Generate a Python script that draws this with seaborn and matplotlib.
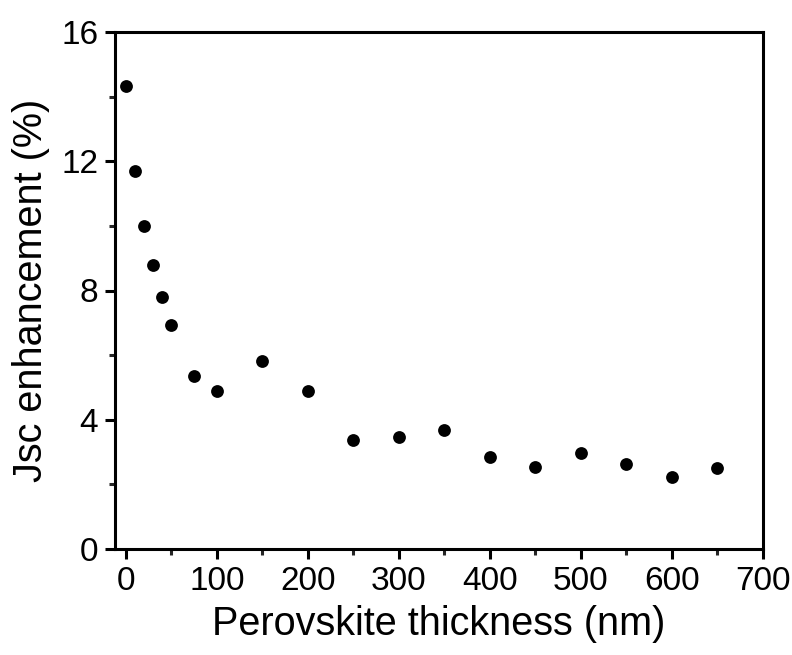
import numpy as np
import pandas as pd
import matplotlib
matplotlib.use("Agg")
import matplotlib.pyplot as plt
import seaborn as sns
from matplotlib.ticker import MultipleLocator

# Perovskite thickness (nm) and Jsc enhancement (%)
thickness = [0, 10, 20, 30, 40, 50, 75, 100, 150, 200, 250, 300, 350, 400, 450, 500, 550, 600, 650]
jsc_enh = [14.33, 11.70, 10.0, 8.79, 7.80, 6.93, 5.36, 4.89, 5.82, 4.89, 3.37, 3.47, 3.68,
           2.85, 2.54, 2.97, 2.63, 2.23, 2.51]

df = pd.DataFrame({"thickness": thickness, "jsc": jsc_enh})

sns.set_style("ticks")
plt.rcParams["font.family"] = ["Liberation Sans", "DejaVu Sans"]

fig = plt.figure(figsize=(7.92, 6.55), dpi=100)
ax = fig.add_axes([115 / 792, 1 - 549 / 655, (763 - 115) / 792, (549 - 32) / 655])

sns.scatterplot(data=df, x="thickness", y="jsc", ax=ax, color="black",
                s=85, edgecolor="black", linewidth=0, legend=False)

ax.set_xlim(-12, 700)
ax.set_ylim(0, 16)
ax.xaxis.set_major_locator(MultipleLocator(100))
ax.xaxis.set_minor_locator(MultipleLocator(50))
ax.yaxis.set_major_locator(MultipleLocator(4))
ax.yaxis.set_minor_locator(MultipleLocator(2))

for sp in ax.spines.values():
    sp.set_linewidth(2.2)
    sp.set_color("black")
ax.tick_params(which="major", direction="out", length=7, width=2.2, labelsize=24,
               colors="black", pad=5)
ax.tick_params(which="minor", direction="out", length=4.5, width=2.2)

ax.set_xlabel("Perovskite thickness (nm)", fontsize=28.5, color="black", labelpad=6)
ax.set_ylabel("Jsc enhancement (%)", fontsize=28.5, color="black", labelpad=8)

fig.savefig("out.png", dpi=100)
